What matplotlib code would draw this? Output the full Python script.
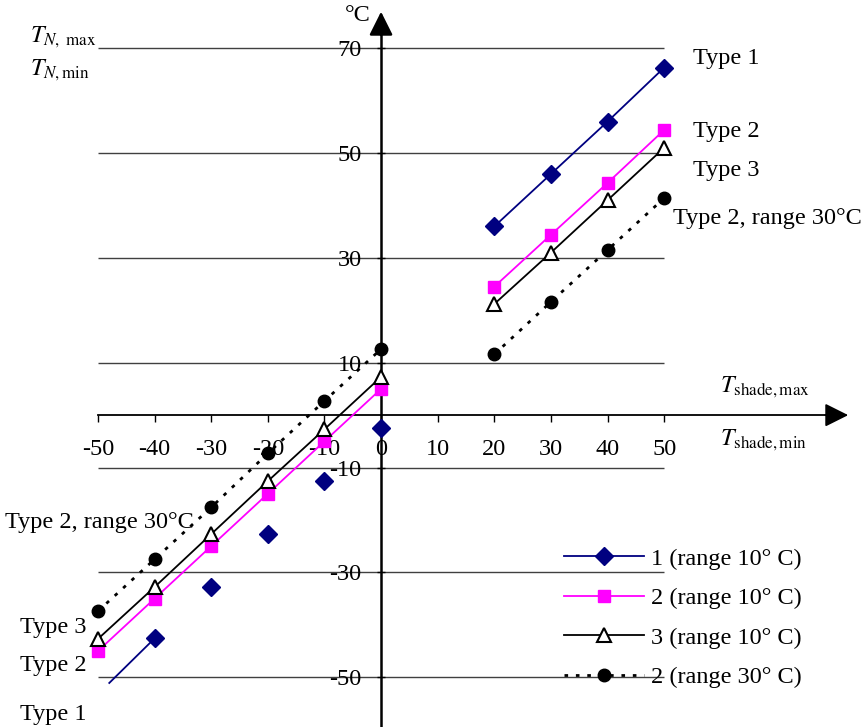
import matplotlib
matplotlib.use('Agg')
import matplotlib.pyplot as plt
from matplotlib.lines import Line2D

plt.rcParams['font.family'] = ['Liberation Serif', 'DejaVu Serif']
plt.rcParams['mathtext.fontset'] = 'stix'

# data
x_pos = [20, 30, 40, 50]
x_neg = [-50, -40, -30, -20, -10, 0]

type1_pos = [36.0, 46.0, 56.0, 66.3]
type1_neg_x = [-40, -30, -20, -10, 0]
type1_neg = [-42.6, -32.7, -22.6, -12.6, -2.5]
type1_seg_x = [-48, -40]
type1_seg = [-51.1, -42.6]

type2_pos = [24.5, 34.4, 44.3, 54.4]
type2_neg = [-45.0, -35.0, -25.0, -15.0, -5.0, 5.0]

type3_pos = [21.2, 31.0, 41.0, 51.0]
type3_neg = [-42.7, -32.8, -22.7, -12.6, -2.7, 7.3]

type2r30_pos = [11.6, 21.6, 31.5, 41.4]
type2r30_neg = [-37.4, -27.5, -17.6, -7.3, 2.7, 12.6]

xticks = [-50, -40, -30, -20, -10, 0, 10, 20, 30, 40, 50]
yticks = [70, 50, 30, 10, -10, -30, -50]

NAVY = '#000080'
MAGENTA = '#ff00ff'
FS = 17.5
DOT = (0, (1.3, 2.8))

fig = plt.figure(figsize=(8.64, 7.27), dpi=100)
ax = fig.add_axes([0, 0, 1, 1])
ax.set_xlim(-67.3, 85.3)
ax.set_ylim(-59.5, 79.2)

# grid lines
ax.hlines(yticks, -50, 50, color='#404040', lw=1.0, zorder=1)

# axes through zero
for s in ['top', 'right']:
    ax.spines[s].set_visible(False)
ax.spines['left'].set_position(('data', 0))
ax.spines['bottom'].set_position(('data', 0))
ax.spines['left'].set_linewidth(1.8)
ax.spines['bottom'].set_linewidth(1.3)
ax.spines['bottom'].set_bounds(-50, 80)
ax.spines['left'].set_bounds(-59.5, 74)
ax.annotate('', xy=(83.0, 0), xytext=(78, 0),
            arrowprops=dict(arrowstyle='-|>,head_length=0.8,head_width=0.4',
                            color='k', lw=1.3, mutation_scale=18))
ax.annotate('', xy=(0, 77.5), xytext=(0, 72),
            arrowprops=dict(arrowstyle='-|>,head_length=0.8,head_width=0.4',
                            color='k', lw=1.8, mutation_scale=18))

ax.set_xticks(xticks)
ax.set_xticklabels([str(v) for v in xticks])
ax.set_yticks(yticks)
ax.set_yticklabels([str(v) for v in yticks])
ax.tick_params(axis='x', direction='out', length=5, width=1, pad=12, labelsize=FS)
ax.tick_params(axis='y', direction='inout', length=6, width=1, pad=11, labelsize=FS)

# series
ax.plot(x_pos, type1_pos, color=NAVY, lw=1.3, marker='D', ms=9, zorder=4)
ax.plot(type1_seg_x, type1_seg, color=NAVY, lw=1.3, zorder=4)
ax.plot(type1_neg_x, type1_neg, color=NAVY, ls='none', marker='D', ms=9, zorder=4)

ax.plot(x_pos, type2_pos, color=MAGENTA, lw=1.3, marker='s', ms=9, zorder=4)
ax.plot(x_neg, type2_neg, color=MAGENTA, lw=1.3, marker='s', ms=9, zorder=4)

ax.plot(x_pos, type3_pos, color='k', lw=1.3, marker='^', ms=10,
        mfc='white', mec='k', mew=1.5, zorder=5)
ax.plot(x_neg, type3_neg, color='k', lw=1.3, marker='^', ms=10,
        mfc='white', mec='k', mew=1.5, zorder=5)

ax.plot(x_pos, type2r30_pos, color='k', lw=2, ls=DOT, marker='o', ms=9, zorder=4)
ax.plot(x_neg, type2r30_neg, color='k', lw=2, ls=DOT, marker='o', ms=9, zorder=4)

# annotations
ax.text(-62, 72.1, r'$T_{N,\mathrm{\ max}}$', fontsize=FS, va='center', ha='left')
ax.text(-62, 65.8, r'$T_{N,\mathrm{min}}$', fontsize=FS, va='center', ha='left')
ax.text(-6.4, 76.3, '°C', fontsize=FS, va='center', ha='left')
ax.text(59.9, 5.3, r'$T_{\mathrm{shade,max}}$', fontsize=FS, va='center', ha='left')
ax.text(59.9, -4.8, r'$T_{\mathrm{shade,min}}$', fontsize=FS, va='center', ha='left')

ax.text(55.1, 68.1, 'Type 1', fontsize=FS, va='center', ha='left')
ax.text(55.1, 54.2, 'Type 2', fontsize=FS, va='center', ha='left')
ax.text(55.1, 46.7, 'Type 3', fontsize=FS, va='center', ha='left')
ax.text(51.6, 37.6, 'Type 2, range 30°C', fontsize=FS, va='center', ha='left')

ax.text(-66.4, -20.4, 'Type 2, range 30°C', fontsize=FS, va='center', ha='left')
ax.text(-63.8, -40.6, 'Type 3', fontsize=FS, va='center', ha='left')
ax.text(-63.8, -47.7, 'Type 2', fontsize=FS, va='center', ha='left')
ax.text(-63.8, -57.2, 'Type 1', fontsize=FS, va='center', ha='left')

# legend
handles = [
    Line2D([], [], color=NAVY, lw=1.3, marker='D', ms=9),
    Line2D([], [], color=MAGENTA, lw=1.3, marker='s', ms=9),
    Line2D([], [], color='k', lw=1.3, marker='^', ms=10, mfc='white', mew=1.5),
    Line2D([], [], color='k', lw=2, ls=DOT, marker='o', ms=9),
]
labels = ['1 (range 10° C)', '2 (range 10° C)', '3 (range 10° C)', '2 (range 30° C)']
fig.legend(handles, labels, loc='center left', bbox_to_anchor=(0.627, 0.150),
           frameon=False, fontsize=FS, handlelength=3.3, handletextpad=0.3,
           labelspacing=0.72, borderpad=0.4)

fig.savefig('out.png', dpi=100)
